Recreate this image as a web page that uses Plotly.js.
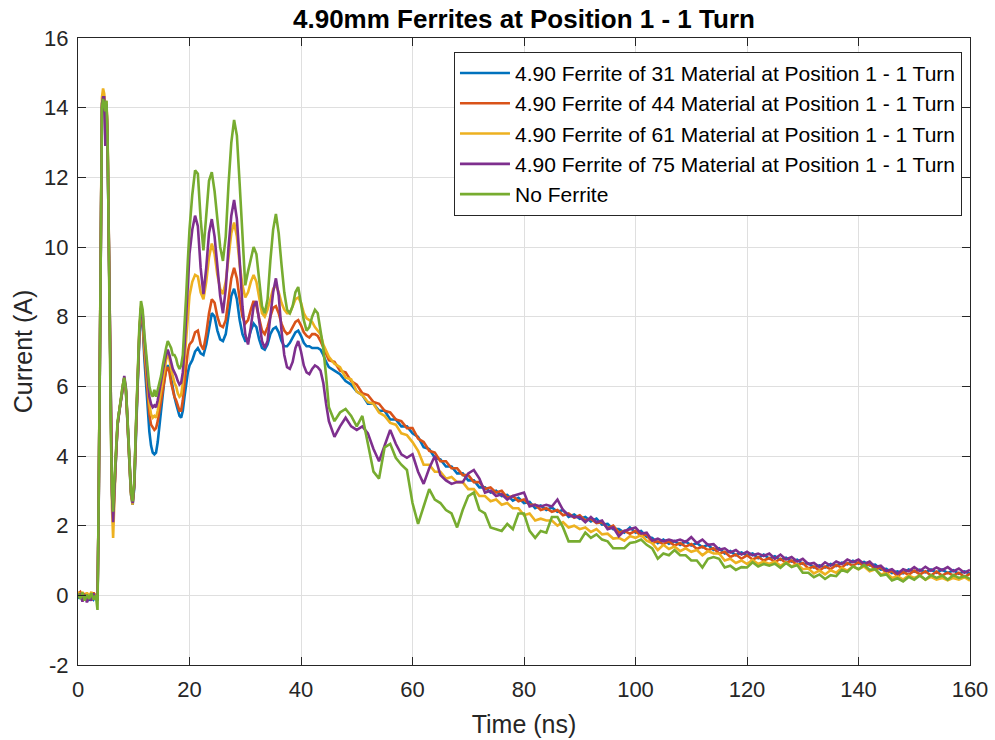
<!DOCTYPE html>
<html>
<head>
<meta charset="utf-8">
<script src="https://cdn.plot.ly/plotly-3.0.1.min.js"></script>
<style>html,body{margin:0;padding:0;background:#fff;}#chart{width:995px;height:740px;}</style>
</head>
<body>
<div id="chart"></div>
<script>
// Time axis (ns)
var timeNs = [
0,0.4,0.8,1.2,1.6,2,2.4,2.8,3.2,3.5,3.7,3.9,4.1,4.3,4.5,4.7,4.9,5.1,5.3,5.5,5.7,5.9,6.1,6.3,6.5,6.8,7.1,7.4,7.7,8,8.3,8.6,8.9,9.2,9.5,9.8,10.1,10.4,10.7,11,11.3,11.6,11.9,12.2,12.5,12.8,13.1,13.4,13.7,14,14.3,14.6,14.9,15.2,15.5,15.8,16.1,16.4,16.7,17,17.3,17.6,17.9,18.2,18.5,18.8,19.1,19.4,19.7,
20,20.5,21,21.5,22,22.5,23,23.5,24,24.5,25,25.5,26,26.5,27,27.5,28,28.5,29,29.5,30,30.5,31,31.5,32,32.5,33,33.5,34,34.5,35,35.5,36,36.5,37,37.5,38,38.5,39,39.5,40,40.5,41,41.5,42,42.5,43,43.5,44,44.5,45,
46,47,48,49,50,51,52,53,54,55,56,57,58,59,60,61,62,63,64,65,66,67,68,69,70,71,72,73,74,75,76,77,78,79,80,81,82,83,84,85,86,87,88,89,90,91,92,93,94,95,96,97,98,99,100,101,102,103,104,105,106,107,108,109,110,111,112,113,114,115,116,117,118,119,120,121,122,123,124,125,126,127,128,129,130,131,132,133,134,135,136,137,138,139,140,141,142,143,144,145,146,147,148,149,150,151,152,153,154,155,156,157,158,159,160
];

var seriesNames = [
"4.90 Ferrite of 31 Material at Position 1 - 1 Turn",
"4.90 Ferrite of 44 Material at Position 1 - 1 Turn",
"4.90 Ferrite of 61 Material at Position 1 - 1 Turn",
"4.90 Ferrite of 75 Material at Position 1 - 1 Turn",
"No Ferrite"
];
var seriesColors = ["#0072BD","#D95319","#EDB120","#7E2F8E","#77AC30"];

var ferrite31 = [
-0.1,0.02,-0.15,0.05,-0.05,-0.15,0,-0.12,-0.02,-0.15,2.4,6.5,11.1,14,14.3,14.15,13.8,14.1,13.1,10.2,6.8,4.4,2.9,2.25,3,4,4.9,5.3,5.65,5.95,6.2,5.85,4.9,3.8,2.9,2.6,3.1,4.6,6.2,7.4,8.1,7.8,6.8,6,5.3,4.7,4.3,4.1,4.05,4.1,4.4,4.9,5.4,5.8,6.2,6.5,6.6,6.5,6.2,5.9,5.7,5.5,5.3,5.15,5.1,5.3,5.7,6.1,6.4,
6.6,6.75,7,7.1,6.95,6.9,7.2,7.7,8.1,8,7.6,7.35,7.3,7.5,8.1,8.6,8.8,8.5,7.9,7.5,7.3,7.3,7.6,7.8,7.7,7.35,7.1,7.05,7.2,7.5,7.65,7.7,7.55,7.3,7.15,7.15,7.25,7.4,7.55,7.6,7.45,7.25,7.15,7.15,7.1,7.1,7.1,7.05,6.9,6.7,6.55,
6.45,6.35,6.15,6.05,5.85,5.75,5.5,5.5,5.3,5.3,
5.05,5.05,4.85,4.85,4.65,4.55,4.25,4.2,3.95,3.9,
3.7,3.7,3.5,3.5,3.3,3.3,3.1,3.1,2.95,3,
2.85,2.88,2.72,2.8,2.65,2.68,2.5,2.58,2.45,2.52,
2.4,2.45,2.25,2.32,2.2,2.25,2.12,2.2,2.03,2.05,
1.9,1.9,1.8,1.95,1.8,1.85,1.68,1.65,1.5,1.6,
1.48,1.56,1.45,1.55,1.43,1.5,1.38,1.45,1.3,1.35,
1.2,1.27,1.15,1.23,1.15,1.2,1.07,1.17,1.05,1.12,
1.02,1.08,0.97,1.02,0.9,0.92,0.8,0.86,0.8,0.9,
0.84,0.94,0.89,0.99,0.91,0.96,0.86,0.88,0.74,0.76,
0.64,0.69,0.63,0.74,0.68,0.74,0.66,0.74,0.65,0.74,
0.64,0.72,0.62,0.69,0.62
];

var ferrite44 = [
0.05,0.1,-0.08,0.06,-0.12,0.04,-0.1,0.08,-0.05,-0.12,2.5,6.6,11.2,14.1,14.35,14.2,13.9,14.15,13.2,10.3,6.9,4.5,3,2.3,3,4,4.9,5.3,5.65,5.95,6.2,5.85,4.9,3.8,2.95,2.65,3.2,4.7,6.3,7.5,8.2,7.9,7,6.3,5.7,5.2,4.9,4.8,4.75,4.8,5,5.3,5.6,5.9,6.2,6.45,6.55,6.4,6.1,5.85,5.7,5.6,5.45,5.3,5.3,5.6,6.1,6.6,7,
7.2,7.3,7.55,7.6,7.2,7.05,7.5,8.1,8.5,8.4,8,7.75,7.7,7.9,8.5,9.1,9.4,9.1,8.5,8,7.8,7.9,8.2,8.45,8.3,7.9,7.6,7.5,7.7,8,8.25,8.3,8.1,7.8,7.6,7.5,7.55,7.7,7.85,7.9,7.75,7.55,7.45,7.4,7.5,7.5,7.45,7.3,7.1,6.9,6.75,
6.7,6.45,6.4,6.15,6.05,5.8,5.75,5.55,5.5,5.3,
5.25,5.05,5,4.8,4.8,4.5,4.4,4.15,4.1,3.85,
3.85,3.65,3.65,3.45,3.45,3.25,3.25,3.05,3.1,2.95,
3,2.8,2.85,2.7,2.75,2.6,2.6,2.45,2.5,2.4,
2.45,2.3,2.35,2.23,2.3,2.15,2.2,2.07,2.1,1.93,
2,1.8,1.85,1.77,1.85,1.7,1.75,1.5,1.55,1.47,
1.55,1.43,1.5,1.4,1.47,1.33,1.4,1.3,1.35,1.2,
1.25,1.1,1.17,1.05,1.15,1.03,1.1,1,1.07,0.95,
1.05,0.93,1,0.87,0.93,0.77,0.83,0.71,0.83,0.75,
0.87,0.8,0.93,0.85,0.95,0.83,0.9,0.75,0.8,0.65,
0.7,0.55,0.67,0.59,0.71,0.6,0.69,0.57,0.68,0.57,
0.65,0.57,0.65,0.53,0.62
];

var ferrite61 = [
0.1,-0.05,0.1,-0.1,0.08,-0.05,0.1,-0.08,0.05,-0.1,2.5,6.6,11.3,14.3,14.55,14.4,14,14.2,13.3,10.3,6.7,4.2,2.5,1.65,2.8,4,4.9,5.3,5.7,6,6.25,5.9,4.9,3.8,2.9,2.6,3.2,4.8,6.4,7.6,8.3,8,7.2,6.6,6,5.5,5.2,5.1,5.15,5.1,5.3,5.6,5.9,6.2,6.5,6.75,6.9,6.8,6.5,6.25,6.1,6,5.8,5.7,5.75,6.1,6.7,7.4,8.1,
8.6,9,9.2,9.15,8.7,8.5,9,9.7,10.1,9.8,9.2,8.8,8.65,9,9.8,10.4,10.7,10.3,9.5,8.9,8.55,8.7,9,9.2,9,8.5,8.1,8,8.2,8.5,8.8,8.9,8.7,8.4,8.2,8.1,8.1,8.3,8.5,8.55,8.4,8.1,7.95,7.9,7.85,7.7,7.6,7.5,7.2,7,6.85,
6.65,6.55,6.25,6.2,5.85,5.75,5.55,5.5,5.25,5.15,
4.95,4.9,4.65,4.6,4.4,4.15,3.75,3.75,3.55,3.55,
3.35,3.4,3.25,3.25,3.05,3.05,2.85,2.85,2.7,2.75,
2.6,2.65,2.5,2.5,2.3,2.35,2.15,2.2,2.15,2.15,
2,2.1,1.95,2,1.9,1.95,1.82,1.9,1.75,1.77,
1.63,1.65,1.57,1.7,1.65,1.73,1.57,1.5,1.3,1.45,
1.33,1.4,1.27,1.35,1.25,1.3,1.15,1.27,1.2,1.2,
1,1.05,0.93,1,0.9,1.02,0.9,0.97,0.9,0.97,
0.85,0.95,0.83,0.9,0.75,0.77,0.63,0.71,0.6,0.72,
0.65,0.79,0.71,0.83,0.75,0.83,0.69,0.75,0.6,0.65,
0.5,0.55,0.45,0.57,0.5,0.57,0.45,0.53,0.45,0.5,
0.43,0.5,0.45,0.52,0.42
];

var ferrite75 = [
-0.05,0.05,-0.18,0.02,-0.2,-0.05,-0.15,0.05,-0.1,-0.15,2.4,6.5,11,14.1,14.3,14.3,12.9,14.1,13,10.2,6.8,4.4,2.9,2.1,3,4,4.9,5.25,5.7,6,6.3,5.95,5,3.9,3,2.65,3.2,4.8,6.3,7.5,8.25,8.1,7.4,6.8,6.2,5.7,5.5,5.4,5.45,5.4,5.6,5.9,6.1,6.4,6.7,6.9,7.05,6.9,6.7,6.5,6.4,6.3,6.15,6.05,6.1,6.4,7.1,8,9,
9.8,10.5,10.9,10.6,9.4,8.65,9.4,10.4,10.8,10.3,9.4,8.6,8.1,8.8,10,10.9,11.35,10.8,9.6,8.3,7.5,7.2,7.7,8.3,8.45,7.9,7.3,7.1,7.3,8,8.7,9.1,8.6,7.6,6.9,6.55,6.5,6.7,7.1,7.3,7,6.6,6.4,6.35,6.5,6.6,6.55,6.45,6.1,5.5,5,
4.55,4.85,5.1,4.85,4.75,4.85,4.65,4.2,3.85,4.3,
4.75,4.35,4.05,3.95,4.05,3.55,3.2,3.65,4,3.45,
3.3,3.2,3.25,3.25,3.5,3.6,3.35,2.95,3,2.85,
2.9,2.75,2.85,2.9,2.95,2.55,2.6,2.55,2.6,2.55,
2.75,2.45,2.3,2.25,2.25,2.1,2.25,2.1,2.15,1.9,
1.95,1.7,1.85,1.9,1.95,1.77,1.8,1.57,1.63,1.55,
1.6,1.55,1.6,1.53,1.67,1.5,1.6,1.45,1.47,1.31,
1.35,1.23,1.3,1.17,1.25,1.15,1.2,1.13,1.2,1.05,
1.17,1.03,1.1,0.97,1.05,0.9,0.93,0.81,0.95,0.85,
0.97,0.9,1.03,0.95,1.03,0.9,0.97,0.81,0.85,0.7,
0.75,0.62,0.75,0.69,0.81,0.7,0.82,0.71,0.8,0.72,
0.81,0.69,0.77,0.65,0.73
];

var noFerrite = [
0.05,-0.1,0.08,-0.15,0.02,-0.1,0.06,-0.12,0,-0.42,2.6,6.8,11.2,14,14.25,14.1,13.9,14.2,13.2,10.4,7,4.6,3.1,2.4,3.2,4.1,5,5.3,5.7,6,6.25,5.9,5,3.9,3,2.7,3.3,4.9,6.5,7.7,8.45,8.2,7.5,7,6.4,6,5.8,5.7,5.9,5.7,5.9,6.1,6.3,6.6,6.9,7.1,7.3,7.2,7.1,6.9,6.9,6.8,6.6,6.5,6.6,6.9,7.6,8.6,9.6,
10.5,11.5,12.2,12.1,10.8,9.9,10.8,11.9,12.15,11.6,10.8,10,9.6,10.3,11.8,13,13.65,13.2,11.8,10.2,8.9,9.3,9.7,10,9.8,9,8.3,8.1,8.5,9.6,10.5,10.95,10.4,9.5,8.7,8.2,8.1,8.3,8.7,8.85,8.4,7.9,7.6,7.7,8,8.2,8.1,7.6,7.1,6.3,5.4,
5,5.25,5.35,5.15,4.85,5.15,4.35,3.55,3.35,4.25,
4.35,3.95,3.75,3.6,2.65,2.05,2.55,3.05,2.75,2.65,
2.45,2.35,1.95,2.45,2.85,2.95,2.45,2.35,1.95,1.9,
1.85,2.05,1.9,2.35,2.35,1.85,1.65,1.85,1.8,2.25,
2.25,1.95,1.55,1.55,1.55,1.8,1.65,1.75,1.6,1.55,
1.35,1.35,1.35,1.5,1.53,1.6,1.45,1.35,1.05,1.2,
1.15,1.3,1.15,1.15,1,1,0.8,1.05,1.1,1.05,
0.8,0.85,0.73,0.81,0.8,0.95,0.83,0.9,0.85,0.91,
0.79,0.93,0.81,0.87,0.65,0.65,0.52,0.6,0.47,0.58,
0.55,0.73,0.67,0.83,0.75,0.87,0.73,0.75,0.57,0.6,
0.43,0.49,0.4,0.53,0.45,0.57,0.45,0.58,0.5,0.57,
0.45,0.58,0.5,0.55,0.47
];

var xTickVals = [0,20,40,60,80,100,120,140,160];
var yTickVals = [-2,0,2,4,6,8,10,12,14,16];

var allSeries = [ferrite31, ferrite44, ferrite61, ferrite75, noFerrite];
var FONT = "Liberation Sans, Arial, Helvetica, sans-serif";
var INK = "#262626";

var traces = allSeries.map(function (vals, i) {
  return {
    type: "scatter",
    mode: "lines",
    x: timeNs,
    y: vals,
    name: seriesNames[i],
    line: {color: seriesColors[i], width: 2.6}
  };
});

var axisCommon = {
  showgrid: true,
  gridcolor: "#dfdfdf",
  gridwidth: 1,
  zeroline: false,
  showline: true,
  linecolor: INK,
  linewidth: 1,
  mirror: "ticks",
  ticks: "inside",
  ticklen: 8,
  tickwidth: 1,
  tickcolor: INK,
  tickfont: {family: FONT, size: 22, color: INK}
};

var layout = {
  width: 995,
  height: 740,
  paper_bgcolor: "#ffffff",
  plot_bgcolor: "#ffffff",
  margin: {l: 78, r: 25, t: 38, b: 75},
  showlegend: true,
  title: {
    text: "4.90mm Ferrites at Position 1 - 1 Turn",
    font: {family: FONT, size: 26, color: "#000000", weight: "bold"},
    x: 0.5266,
    xanchor: "center",
    y: 0.974,
    yanchor: "middle"
  },
  xaxis: Object.assign({}, axisCommon, {
    range: [0, 160],
    tickvals: xTickVals,
    ticktext: xTickVals.map(String),
    ticklabelstandoff: 5,
    title: {text: "Time (ns)", font: {family: FONT, size: 25, color: INK}, standoff: 14}
  }),
  yaxis: Object.assign({}, axisCommon, {
    range: [-2, 16],
    tickvals: yTickVals,
    ticktext: yTickVals.map(String),
    ticklabelstandoff: 4,
    title: {text: "Current (A)", font: {family: FONT, size: 25, color: INK}, standoff: 4}
  }),
  legend: {
    x: 0.991,
    xanchor: "right",
    y: 0.978,
    yanchor: "top",
    bgcolor: "#ffffff",
    bordercolor: INK,
    borderwidth: 1,
    itemwidth: 50,
    font: {family: FONT, size: 21, color: "#000000"},
    tracegroupgap: 0
  }
};

Plotly.newPlot("chart", traces, layout, {staticPlot: true, displayModeBar: false});
</script>
</body>
</html>
